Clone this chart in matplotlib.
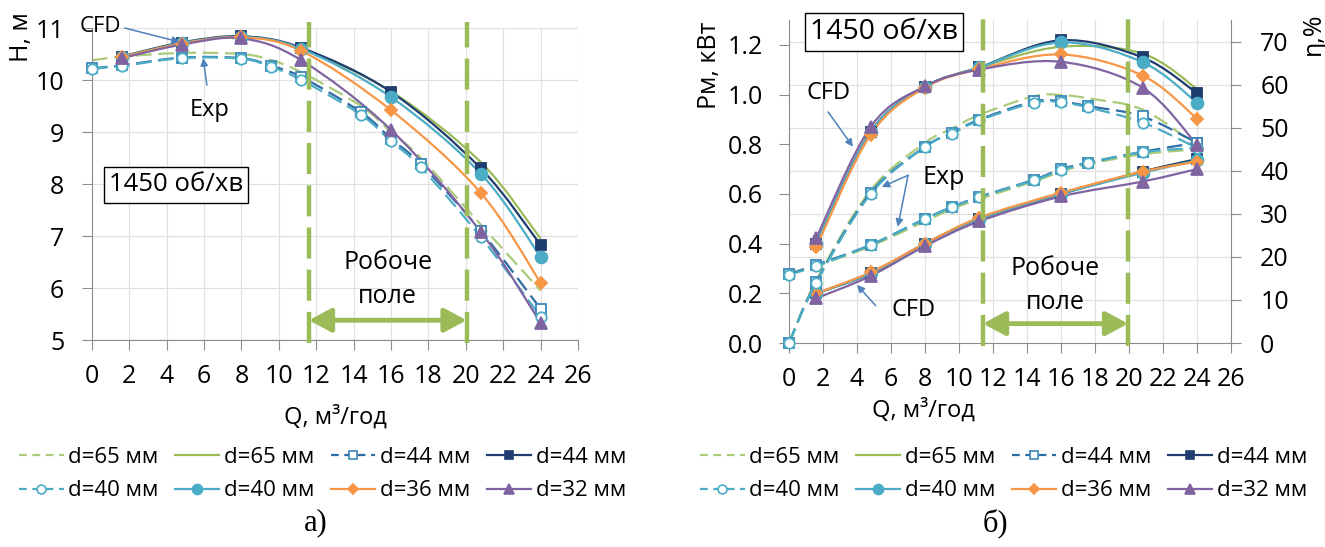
import numpy as np
import matplotlib
matplotlib.use("Agg")
import matplotlib.pyplot as plt
from matplotlib.path import Path
from matplotlib.patches import PathPatch, FancyArrowPatch
from matplotlib.lines import Line2D

plt.rcParams["font.family"] = ["Open Sans", "DejaVu Sans"]

# flow rates, m3/h
q_exp = [0, 1.6, 4.8, 8, 9.6, 11.2, 14.4, 16, 17.6, 20.8, 24]
q_cfd = [1.6, 4.8, 8, 11.2, 16, 20.8, 24]

# head, m
h_exp_65 = [10.38, 10.45, 10.52, 10.50, 10.38, 10.15, 9.50, 9.00, 8.50, 7.22, 5.95]
h_exp_44 = [10.23, 10.28, 10.43, 10.42, 10.27, 10.06, 9.38, 8.87, 8.38, 7.10, 5.60]
h_exp_40 = [10.22, 10.27, 10.42, 10.41, 10.25, 10.00, 9.33, 8.82, 8.32, 6.98, 5.45]
h_cfd_65 = [10.45, 10.72, 10.84, 10.60, 9.78, 8.42, 6.95]
h_cfd_44 = [10.45, 10.72, 10.84, 10.62, 9.77, 8.30, 6.83]
h_cfd_40 = [10.44, 10.71, 10.83, 10.60, 9.67, 8.20, 6.60]
h_cfd_36 = [10.44, 10.70, 10.82, 10.56, 9.42, 7.83, 6.10]
h_cfd_32 = [10.42, 10.68, 10.80, 10.38, 9.04, 7.08, 5.33]

# shaft power, kW
p_exp_65 = [0.28, 0.31, 0.39, 0.49, 0.54, 0.58, 0.65, 0.69, 0.72, 0.76, 0.78]
p_exp_44 = [0.278, 0.315, 0.395, 0.50, 0.548, 0.589, 0.657, 0.70, 0.726, 0.77, 0.806]
p_exp_40 = [0.275, 0.31, 0.395, 0.50, 0.547, 0.588, 0.655, 0.695, 0.725, 0.768, 0.786]
p_cfd_65 = [0.20, 0.28, 0.40, 0.50, 0.60, 0.69, 0.74]
p_cfd_44 = [0.20, 0.28, 0.40, 0.50, 0.60, 0.69, 0.74]
p_cfd_40 = [0.20, 0.28, 0.40, 0.50, 0.60, 0.685, 0.735]
p_cfd_36 = [0.20, 0.285, 0.40, 0.505, 0.605, 0.69, 0.73]
p_cfd_32 = [0.18, 0.27, 0.39, 0.49, 0.59, 0.65, 0.70]

# efficiency, %
e_exp_65 = [0, 14.5, 35.5, 46.5, 49.8, 53.0, 57.3, 57.6, 56.8, 54.2, 45.8]
e_exp_44 = [0, 14.2, 34.9, 45.6, 48.8, 51.9, 56.1, 56.1, 55.0, 52.6, 46.5]
e_exp_40 = [0, 14.0, 34.6, 45.5, 48.6, 51.7, 55.8, 55.9, 54.7, 51.2, 45.3]
e_cfd_65 = [23.0, 49.0, 59.5, 64.0, 68.8, 67.2, 59.0]
e_cfd_44 = [23.0, 49.0, 59.5, 64.0, 70.3, 66.3, 58.0]
e_cfd_40 = [23.0, 49.0, 59.5, 64.0, 69.8, 65.2, 55.8]
e_cfd_36 = [22.3, 48.4, 59.3, 63.6, 67.0, 62.1, 52.1]
e_cfd_32 = [24.4, 50.2, 59.6, 63.5, 65.3, 59.3, 46.0]

labels = ["d=65 мм", "d=65 мм", "d=44 мм", "d=44 мм",
          "d=40 мм", "d=40 мм", "d=36 мм", "d=32 мм"]

GREEN = "#9BBB59"
LGREEN = "#A9CB7A"
BLUE = "#2E6DA4"
NAVY = "#1F3D6E"
CYAN = "#4BACC6"
ORANGE = "#F79646"
PURPLE = "#8064A2"
ARROW = "#4F81BD"
GRID = "#E0E0E0"
SPINE = "#8C8C8C"

# series styles: (line colour, dashed, marker, face, edge, size)
styles = [
    (LGREEN, True, None, None, None, 0),
    (GREEN, False, None, None, None, 0),
    (BLUE, True, "s", "white", "#3A86B8", 7.5),
    (NAVY, False, "s", NAVY, NAVY, 7),
    (CYAN, True, "o", "white", CYAN, 7.5),
    (CYAN, False, "o", CYAN, CYAN, 8.5),
    (ORANGE, False, "D", ORANGE, ORANGE, 6.5),
    (PURPLE, False, "^", PURPLE, PURPLE, 8.5),
]
DASH = (0, (7, 3))


def smooth_path(xs, ys):
    # Catmull-Rom through the points, written as cubic Bezier segments
    pts = np.column_stack([xs, ys]).astype(float)
    ext = np.vstack([pts[0], pts, pts[-1]])
    verts = [pts[0]]
    codes = [Path.MOVETO]
    for i in range(1, len(ext) - 2):
        p0, p1, p2, p3 = ext[i - 1], ext[i], ext[i + 1], ext[i + 2]
        verts += [p1 + (p2 - p0) / 6, p2 - (p3 - p1) / 6, p2]
        codes += [Path.CURVE4] * 3
    return Path(verts, codes)


def draw_series(ax, xs, ys, style):
    color, dashed, marker, face, edge, size = style
    ax.add_patch(PathPatch(smooth_path(xs, ys), fill=False, edgecolor=color,
                           lw=1.6, linestyle=DASH if dashed else "-",
                           capstyle="butt"))
    if marker:
        ax.plot(xs, ys, ls="none", marker=marker, mfc=face, mec=edge,
                ms=size, mew=1.3, clip_on=False, zorder=3)


def legend_handles():
    hs = []
    for color, dashed, marker, face, edge, size in styles:
        hs.append(Line2D([], [], color=color, lw=1.6,
                         ls=(0, (3.5, 2.5)) if dashed else "-",
                         marker=marker, mfc=face, mec=edge,
                         ms=size * 0.85 if marker else 0, mew=1.2))
    return hs


def style_axes(ax):
    for side in ["top", "right"]:
        ax.spines[side].set_visible(False)
    for side in ["left", "bottom"]:
        ax.spines[side].set_color(SPINE)
    ax.tick_params(direction="out", length=7, color=SPINE, labelsize=18)
    ax.tick_params(axis="y", pad=13)
    ax.tick_params(axis="x", pad=10)


def work_zone(ax, x0, x1, y_arrow, y_txt1, y_txt2):
    for x in (x0, x1):
        ax.axvline(x, ymin=-0.01, ymax=1.02, color=GREEN, lw=3.2,
                   ls=(0, (7, 2.5)), clip_on=False, zorder=4)
    ax.add_patch(FancyArrowPatch((x0, y_arrow), (x1, y_arrow),
                                 arrowstyle="<|-|>,head_length=0.75,head_width=0.4",
                                 mutation_scale=18, color=GREEN, lw=3.5,
                                 shrinkA=0, shrinkB=0, zorder=4))
    xm = (x0 + x1) / 2
    ax.text(xm, y_txt1, "Робоче", ha="center", va="center", fontsize=18)
    ax.text(xm, y_txt2, "поле", ha="center", va="center", fontsize=18)


def pointer(ax, tip, start):
    ax.annotate("", xy=tip, xytext=start, annotation_clip=False,
                arrowprops=dict(arrowstyle="-|>", color=ARROW, lw=1.1,
                                mutation_scale=11, shrinkA=0, shrinkB=0))


fig = plt.figure(figsize=(13.25, 5.47), dpi=100)

# ---- a) head curves ----
ax = fig.add_axes([0.0694, 0.3784, 0.3668, 0.5704])
ax.set_xlim(0, 26)
ax.set_ylim(5, 11)
ax.set_xticks(np.arange(0, 27, 2))
ax.set_yticks(np.arange(5, 12, 1))
ax.grid(True, color=GRID, lw=0.9)
ax.set_axisbelow(True)
style_axes(ax)

head = [h_exp_65, h_cfd_65, h_exp_44, h_cfd_44, h_exp_40, h_cfd_40, h_cfd_36, h_cfd_32]
for ys, st in zip(head, styles):
    draw_series(ax, q_exp if len(ys) == len(q_exp) else q_cfd, ys, st)

work_zone(ax, 11.6, 20.05, 5.38, 6.5, 5.83)
ax.text(0.45, 11.02, "CFD", ha="center", va="center", fontsize=16, clip_on=False)
pointer(ax, (4.7, 10.73), (1.75, 11.0))
ax.text(6.3, 9.42, "Exp", ha="center", va="center", fontsize=17)
pointer(ax, (5.95, 10.42), (6.15, 9.9))
fig.text(0.1328, 0.6618, "1450 об/хв", ha="center", va="center", fontsize=18.5,
         bbox=dict(boxstyle="square,pad=0.2", fc="white", ec="black", lw=1))

# ---- б) power and efficiency ----
axp = fig.add_axes([0.5955, 0.3729, 0.3336, 0.5905])
axe = axp.twinx()
axp.set_xlim(0, 26)
axp.set_ylim(0, 1.3)
axe.set_ylim(0, 75)
axp.set_xticks(np.arange(0, 27, 2))
axp.set_yticks(np.arange(0, 1.21, 0.2))
axp.set_yticklabels([f"{v:.1f}" for v in np.arange(0, 1.21, 0.2)])
axe.set_yticks(np.arange(0, 71, 10))
# horizontal grid follows the efficiency scale
axp.set_yticks(np.arange(0, 71, 10) * 1.3 / 75, minor=True)
axp.tick_params(axis="y", which="minor", length=0)
axp.grid(True, which="major", axis="x", color=GRID, lw=0.9)
axp.grid(True, which="minor", axis="y", color=GRID, lw=0.9)
axp.set_axisbelow(True)
style_axes(axp)
axp.tick_params(axis="y", pad=12)
for side in ["top", "left", "bottom"]:
    axe.spines[side].set_visible(False)
axe.spines["right"].set_color(SPINE)
axe.tick_params(direction="out", length=7, color=SPINE, labelsize=18, pad=14)

power = [p_exp_65, p_cfd_65, p_exp_44, p_cfd_44, p_exp_40, p_cfd_40, p_cfd_36, p_cfd_32]
eff = [e_exp_65, e_cfd_65, e_exp_44, e_cfd_44, e_exp_40, e_cfd_40, e_cfd_36, e_cfd_32]
for ys, st in zip(power, styles):
    draw_series(axp, q_exp if len(ys) == len(q_exp) else q_cfd, ys, st)
for ys, st in zip(eff, styles):
    draw_series(axe, q_exp if len(ys) == len(q_exp) else q_cfd, ys, st)

work_zone(axe, 11.4, 19.95, 4.5, 17.4, 9.5)
axp.text(2.3, 1.008, "CFD", ha="center", va="center", fontsize=17)
pointer(axp, (3.76, 0.79), (2.3, 0.93))
axp.text(7.3, 0.133, "CFD", ha="center", va="center", fontsize=17)
pointer(axp, (4.0, 0.234), (5.1, 0.15))
axp.text(9.1, 0.665, "Exp", ha="center", va="center", fontsize=18)
pointer(axp, (5.45, 0.628), (7.0, 0.675))
pointer(axp, (6.4, 0.468), (7.0, 0.675))
fig.text(0.6672, 0.9415, "1450 об/хв", ha="center", va="center", fontsize=20.5,
         bbox=dict(boxstyle="square,pad=0.18", fc="white", ec="black", lw=1))

# axis titles
fig.text(0.0166, 0.932, "H, м", rotation=90, ha="center", va="center", fontsize=18)
fig.text(0.2528, 0.237, "Q, м³/год", ha="center", va="center", fontsize=17)
fig.text(0.5358, 0.881, "Pм, кВт", rotation=90, ha="center", va="center", fontsize=18)
fig.text(0.991, 0.938, "η,%", rotation=90, ha="center", va="center", fontsize=18)
fig.text(0.697, 0.2505, "Q, м³/год", ha="center", va="center", fontsize=17)

# legends, filled row by row
order = [0, 4, 1, 5, 2, 6, 3, 7]
hs = legend_handles()
for x0 in (0.006, 0.520):
    fig.legend([hs[i] for i in order], [labels[i] for i in order], ncol=4,
               loc="upper left", bbox_to_anchor=(x0, 0.203), frameon=False,
               fontsize=16, handlelength=2.0, handletextpad=0.2,
               columnspacing=0.75, labelspacing=0.55, borderpad=0)

fig.text(0.2385, 0.044, "а)", ha="center", va="center", fontsize=22,
         family="Liberation Serif")
fig.text(0.751, 0.044, "б)", ha="center", va="center", fontsize=22,
         family="Liberation Serif")

fig.savefig("out.png", dpi=100, facecolor="white")
